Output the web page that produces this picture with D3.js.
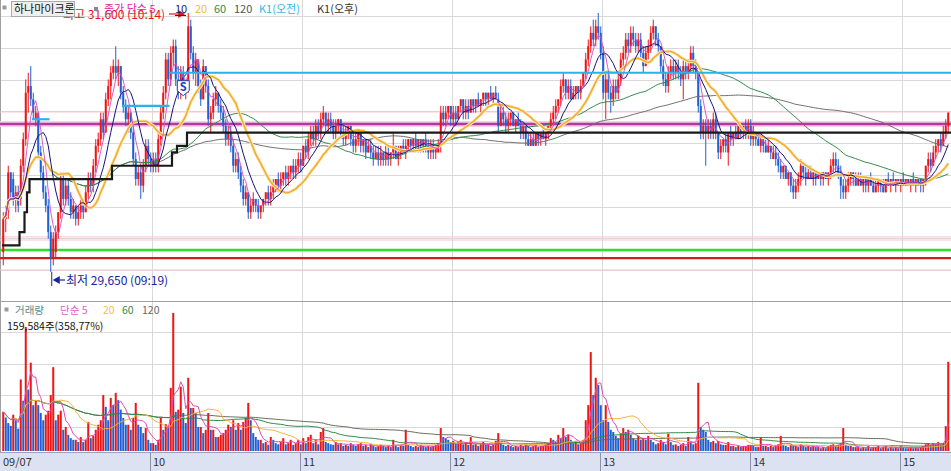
<!DOCTYPE html>
<html><head><meta charset="utf-8">
<script src="https://cdn.jsdelivr.net/npm/d3@7"></script>
<style>
html,body{margin:0;padding:0;background:#fff;overflow:hidden}
svg{display:block}
text{font-family:"Noto Sans CJK KR","Noto Sans",sans-serif}
</style></head><body>
<svg id="c" width="951" height="471"></svg>
<script>
// ---------- DATA (1-minute candles, 09:00 .. 15:18) ----------
const open = [
29800,30050,30100,30400,30350,30200,30250,30200,30450,30650,31000,31050,30950,30800,30850,30550,30400,30250,30150,29950,
29750,29800,29950,30100,30350,30200,30300,30200,30100,30150,30050,30100,30150,30100,30250,30350,30300,30450,30600,30650,
30800,30700,30950,31050,31150,31200,31150,31200,31000,30900,30800,30850,30700,30500,30350,30400,30300,30450,30600,30500,
30450,30500,30450,30650,30850,31000,31250,31100,31300,31350,31100,31000,31150,31000,31050,31500,31300,31150,31250,31050,
30950,31200,31050,30800,30850,30950,31000,30900,30850,30750,30650,30700,30600,30450,30500,30400,30300,30200,30250,30100,
30150,30200,30150,30100,30150,30200,30250,30200,30250,30300,30350,30300,30350,30400,30350,30400,30450,30400,30450,30500,
30450,30600,30550,30650,30700,30650,30750,30700,30800,30850,30750,30800,30750,30700,30750,30800,30700,30650,30700,30750,
30650,30600,30650,30700,30600,30650,30550,30600,30550,30500,30550,30500,30550,30500,30550,30500,30550,30600,30500,30550,
30600,30550,30600,30650,30600,30650,30600,30650,30600,30650,30600,30550,30600,30550,30550,30600,30850,30800,30850,30900,
30800,30850,30800,30900,30950,30850,30900,30850,30950,30900,30950,30900,30950,31000,30950,31000,30950,31000,30950,30750,
30850,30800,30750,30800,30850,30750,30800,30750,30700,30750,30650,30600,30650,30600,30700,30650,30700,30650,30700,30750,
30800,30850,30900,30950,31050,31100,31000,31050,30950,31000,31050,31000,31050,31150,31250,31350,31450,31400,31500,31450,
31300,31000,31100,31000,30950,31050,31000,31100,31250,31300,31400,31350,31450,31400,31350,31400,31300,31200,31300,31350,
31450,31500,31400,31350,31200,31100,31050,31150,31200,31150,31200,31150,31100,31200,31150,31200,31300,31200,31150,30900,
30700,30750,30700,30750,30700,30800,30700,30550,30600,30650,30550,30700,30650,30700,30650,30750,30700,30750,30700,30750,
30650,30700,30650,30600,30650,30600,30550,30600,30500,30550,30500,30450,30400,30450,30350,30400,30300,30250,30300,30350,
30450,30400,30350,30400,30350,30400,30350,30400,30350,30400,30350,30400,30450,30500,30450,30400,30300,30250,30300,30350,
30400,30350,30300,30350,30300,30350,30300,30350,30300,30250,30300,30350,30300,30250,30350,30300,30350,30300,30350,30300,
30350,30300,30350,30300,30350,30300,30350,30350,30300,30350,30450,30500,30450,30550,30600,30650,30600,30700,30750];
const high = [
30100,30150,30450,30400,30400,30300,30300,30500,30700,31100,31150,31200,31000,30900,30850,30600,30450,30300,30200,30000,
29950,30000,30100,30400,30400,30350,30350,30250,30200,30150,30150,30200,30200,30300,30400,30400,30500,30650,30700,30850,
30850,31000,31100,31200,31250,31350,31250,31200,31050,30950,30900,30850,30750,30550,30450,30450,30500,30650,30650,30550,
30550,30550,30700,30900,31050,31300,31300,31350,31400,31400,31200,31200,31200,31100,31600,31550,31350,31300,31250,31100,
31250,31200,31100,30900,31000,31050,31000,30950,30900,30800,30750,30750,30650,30550,30550,30450,30350,30300,30250,30200,
30250,30200,30200,30150,30200,30250,30300,30300,30350,30350,30400,30400,30400,30450,30450,30450,30500,30500,30550,30550,
30600,30650,30700,30750,30750,30800,30800,30850,30900,30850,30850,30850,30800,30800,30800,30800,30750,30750,30750,30750,
30700,30700,30700,30700,30650,30650,30650,30650,30600,30600,30600,30600,30550,30600,30600,30550,30700,30600,30600,30600,
30650,30650,30650,30650,30650,30700,30650,30650,30650,30700,30650,30650,30650,30600,30650,30900,30900,30900,30900,30900,
30900,30900,30900,30950,30950,30950,30950,30950,30950,30950,31000,30950,31000,31000,31000,31050,31000,31050,31000,30900,
30900,30850,30850,30850,30850,30800,30850,30800,30750,30750,30700,30700,30700,30700,30700,30700,30750,30700,30750,30850,
30900,30950,30950,31100,31150,31100,31100,31100,31050,31050,31050,31100,31150,31300,31400,31500,31550,31550,31600,31500,
31350,31150,31150,31050,31100,31100,31150,31300,31350,31450,31450,31500,31500,31450,31450,31450,31350,31350,31400,31500,
31550,31500,31450,31350,31250,31150,31200,31250,31250,31250,31250,31200,31250,31250,31250,31350,31350,31250,31150,30950,
30800,30800,30800,30800,30850,30850,30700,30650,30650,30700,30700,30750,30700,30750,30750,30750,30750,30800,30800,30800,
30750,30700,30700,30700,30650,30650,30650,30600,30600,30600,30550,30500,30450,30450,30400,30400,30350,30350,30400,30500,
30450,30450,30450,30450,30400,30400,30400,30400,30400,30400,30400,30500,30550,30550,30500,30450,30350,30350,30400,30400,
30400,30400,30400,30400,30350,30350,30350,30400,30350,30350,30350,30350,30350,30350,30400,30350,30400,30350,30350,30350,
30400,30350,30350,30350,30400,30350,30350,30350,30350,30450,30550,30550,30600,30650,30650,30700,30750,30800,30850];
const low = [
29700,29950,30050,30200,30150,30100,30100,30150,30400,30600,30850,30900,30800,30750,30500,30350,30200,30100,29900,29650,
29700,29750,29900,30050,30150,30150,30150,30050,30050,30000,30000,30050,30050,30100,30200,30250,30250,30400,30550,30600,
30650,30700,30900,30950,31100,31100,31050,30950,30850,30750,30700,30650,30450,30300,30300,30200,30250,30400,30450,30400,
30400,30400,30400,30600,30800,30950,31050,31050,31200,31050,30950,30950,31000,30950,31000,31250,31100,31050,31000,30900,
30950,31000,30750,30700,30800,30900,30850,30800,30700,30600,30600,30550,30400,30400,30350,30250,30150,30150,30050,30050,
30100,30100,30050,30050,30100,30150,30150,30150,30200,30250,30250,30250,30300,30300,30300,30350,30350,30350,30400,30400,
30450,30500,30500,30600,30600,30600,30650,30650,30750,30700,30700,30700,30650,30650,30700,30650,30600,30600,30650,30600,
30550,30550,30600,30550,30550,30500,30550,30500,30450,30500,30450,30450,30450,30450,30450,30450,30500,30500,30450,30500,
30550,30500,30550,30550,30550,30550,30550,30550,30550,30550,30500,30500,30500,30500,30550,30550,30750,30750,30800,30750,
30750,30750,30800,30850,30800,30800,30800,30850,30850,30850,30900,30850,30900,30900,30900,30950,30900,30950,30700,30750,
30750,30700,30700,30750,30750,30700,30750,30650,30650,30600,30600,30600,30600,30600,30600,30600,30650,30600,30650,30700,
30750,30800,30850,30900,31000,30950,30950,30950,30950,30950,30950,30950,31050,31100,31200,31300,31350,31350,31400,31250,
30950,30800,30950,30850,30900,30950,30950,31050,31200,31250,31300,31300,31350,31300,31300,31250,31150,31200,31250,31300,
31400,31350,31300,31150,31050,31000,31000,31100,31100,31100,31100,31050,30950,31100,31100,31150,31150,31100,30850,30650,
30650,30450,30650,30650,30650,30650,30500,30500,30550,30550,30450,30600,30600,30650,30650,30650,30650,30650,30650,30600,
30600,30600,30600,30550,30550,30550,30550,30500,30500,30450,30400,30350,30350,30350,30300,30250,30200,30200,30250,30300,
30350,30300,30350,30350,30300,30300,30350,30300,30300,30350,30300,30350,30400,30400,30350,30200,30200,30200,30250,30300,
30300,30300,30300,30300,30250,30250,30250,30300,30250,30250,30250,30250,30250,30250,30300,30250,30300,30250,30300,30250,
30300,30300,30300,30250,30300,30250,30300,30250,30250,30300,30400,30400,30450,30500,30550,30550,30600,30650,30700];
const close = [
30050,30100,30400,30250,30200,30250,30150,30450,30650,31000,31050,30950,30850,30850,30550,30400,30250,30150,29950,29750,
29900,29950,30100,30350,30200,30300,30200,30100,30150,30050,30100,30150,30100,30250,30350,30300,30450,30600,30650,30800,
30700,30950,31050,31150,31200,31150,31200,31000,30900,30800,30850,30700,30500,30350,30400,30300,30450,30600,30500,30450,
30500,30450,30650,30850,31000,31250,31100,31300,31350,31100,31000,31150,31050,31050,31500,31300,31150,31250,31050,30950,
31200,31050,30800,30850,30950,31000,30900,30850,30750,30650,30700,30600,30450,30500,30400,30300,30200,30250,30100,30150,
30200,30150,30100,30150,30200,30250,30200,30250,30300,30350,30300,30350,30400,30350,30400,30450,30400,30450,30500,30450,
30600,30550,30650,30700,30650,30750,30700,30800,30850,30750,30800,30750,30700,30750,30800,30700,30650,30700,30750,30650,
30600,30650,30700,30600,30650,30550,30600,30550,30500,30550,30500,30550,30500,30550,30500,30550,30600,30500,30550,30600,
30550,30600,30650,30600,30650,30600,30650,30600,30650,30600,30550,30600,30550,30600,30600,30850,30800,30850,30900,30800,
30850,30800,30900,30950,30850,30900,30850,30950,30900,30950,30900,30950,31000,30950,31000,30950,31000,30950,30750,30850,
30800,30750,30800,30850,30750,30800,30750,30700,30750,30650,30600,30650,30600,30700,30650,30700,30650,30700,30750,30800,
30850,30900,30950,31050,31100,31000,31050,30950,31000,31050,31000,31050,31150,31250,31350,31450,31400,31500,31450,31300,
31000,31100,31000,30950,31050,31000,31100,31250,31300,31400,31350,31450,31400,31350,31400,31300,31200,31300,31350,31450,
31500,31400,31350,31200,31100,31050,31150,31200,31150,31200,31150,31100,31200,31150,31200,31300,31200,31150,30900,30700,
30750,30700,30750,30700,30800,30700,30550,30600,30650,30600,30700,30650,30700,30650,30750,30700,30750,30700,30750,30650,
30700,30650,30600,30650,30600,30550,30600,30550,30550,30500,30450,30400,30450,30350,30400,30300,30250,30300,30350,30450,
30400,30350,30400,30350,30400,30350,30400,30350,30400,30350,30400,30450,30500,30450,30400,30300,30250,30300,30350,30400,
30350,30300,30350,30300,30350,30300,30350,30300,30250,30300,30350,30300,30250,30350,30300,30350,30300,30350,30300,30350,
30300,30350,30300,30350,30300,30350,30300,30300,30350,30450,30500,30450,30550,30600,30650,30600,30700,30750,30850];
const volume = [
70000,60000,50000,45000,65000,55000,40000,128000,90000,222000,110000,158000,82000,90000,82000,68000,55000,65000,72000,100000,
150000,55000,65000,72000,38000,43000,29000,23000,20000,20000,16000,25000,16000,20000,52000,23000,27000,38000,47000,55000,
100000,79000,55000,95000,82000,104000,91000,74000,59000,47000,47000,38000,59000,86000,47000,43000,32000,41000,20000,14000,
14000,11000,20000,59000,38000,48000,45000,113000,247000,70000,74000,115000,68000,50000,131000,77000,77000,68000,43000,43000,
32000,38000,68000,38000,38000,25000,25000,29000,32000,38000,47000,43000,55000,38000,50000,38000,52000,59000,86000,55000,
32000,25000,20000,20000,14000,16000,11000,25000,20000,14000,12000,16000,23000,12000,14000,20000,11000,14000,20000,12000,
23000,14000,25000,29000,14000,20000,12000,34000,41000,16000,14000,12000,11000,16000,12000,14000,9000,11000,9000,14000,
11000,9000,12000,14000,9000,11000,7000,12000,9000,7000,9000,11000,9000,7000,9000,7000,20000,9000,7000,11000,
9000,38000,11000,9000,7000,9000,7000,11000,9000,7000,9000,7000,9000,11000,14000,41000,25000,23000,20000,16000,
18000,14000,16000,20000,12000,14000,11000,25000,11000,12000,9000,12000,16000,11000,12000,9000,11000,18000,32000,14000,
11000,9000,11000,9000,7000,9000,7000,11000,9000,11000,9000,7000,9000,11000,7000,9000,9000,12000,14000,23000,
20000,16000,29000,23000,41000,25000,29000,20000,14000,18000,12000,14000,20000,55000,82000,177000,100000,131000,118000,82000,
55000,82000,52000,38000,34000,27000,23000,32000,41000,34000,38000,29000,23000,20000,27000,20000,23000,20000,27000,20000,
16000,12000,14000,20000,16000,12000,31000,16000,11000,12000,9000,11000,14000,9000,25000,18000,12000,14000,122000,43000,
38000,34000,20000,16000,18000,14000,18000,12000,11000,11000,16000,9000,9000,7000,9000,7000,9000,9000,11000,11000,
9000,7000,7000,25000,9000,9000,7000,9000,7000,11000,12000,27000,11000,9000,7000,11000,9000,9000,7000,12000,
9000,7000,9000,7000,9000,7000,7000,5000,7000,5000,9000,11000,12000,9000,11000,14000,41000,11000,9000,9000,
7000,7000,7000,5000,7000,5000,9000,5000,7000,7000,9000,5000,7000,9000,5000,7000,5000,7000,5000,9000,
7000,5000,5000,7000,5000,7000,5000,7000,9000,12000,14000,11000,14000,12000,16000,12000,14000,44481,159584];

const timeLabels = ["09/07","10","11","12","13","14","15"];
const timeTicks  = [0,60,120,180,240,300,360];           // minute index of each label
const kAM = [[12,19,30800],[48,67,30900],[67,380,31150]]; // K1(오전) segments: [from, to, price]
const kPM = [[0,29850],[7,29950],[9,30100],[10,30250],[11,30350],[44,30450],[68,30550],[70,30600],[74,30700]]; // K1(오후) steps
const pinkLevels = [30855,29914,29891,29665];
const magentaLevel = [30765];
const greenLevel = [29815];
const redLevel = [29755];
const highInfo = {price:31600, idx:74, label:"최고 31,600 (10:14)"};
const lowInfo  = {price:29650, idx:19, label:"최저 29,650 (09:19)"};
const signalS  = {idx:72, price:31000};

// ---------- SCALES ----------
const N = close.length;
const svg = d3.select("#c");
const x = d3.scaleLinear().domain([0,380]).range([2,952]);
const y = d3.scaleLinear().domain([29650,31600]).range([272,13]);
const yv = d3.scaleLinear().domain([0,263000]).range([451,304]);
const cx = i => x(i)+1.25;

function sma(arr,n){return arr.map((_,i)=>d3.mean(arr.slice(Math.max(0,i-n+1),i+1)));}

// ---------- BACKGROUND / GRID ----------
svg.append("rect").attr("width",951).attr("height",471).attr("fill","#fff");
const grid = svg.append("g").attr("stroke","#d9d9d9").attr("stroke-width",1);
d3.range(9).forEach(k=>{const gy=Math.round(16+k*31.75)+0.5;
  grid.append("line").attr("x1",0).attr("x2",951).attr("y1",gy).attr("y2",gy);});
[332,363.5,395,426.5].forEach(v=>{const gy=Math.round(v)+0.5;
  grid.append("line").attr("x1",0).attr("x2",951).attr("y1",gy).attr("y2",gy);});
timeTicks.slice(1).forEach(t=>{const gx=Math.round(x(t))+0.5;
  grid.append("line").attr("x1",gx).attr("x2",gx).attr("y1",0).attr("y2",452);});
svg.append("line").attr("x1",0).attr("x2",951).attr("y1",301.5).attr("y2",301.5).attr("stroke","#a0a0a0");
svg.append("line").attr("x1",0.5).attr("x2",0.5).attr("y1",0).attr("y2",452).attr("stroke","#a0a0a0");

// ---------- LEVEL LINES ----------
const lv = svg.append("g");
const hline = (p,col,w)=>lv.append("line").attr("x1",0).attr("x2",951).attr("y1",y(p)).attr("y2",y(p)).attr("stroke",col).attr("stroke-width",w);
pinkLevels.forEach(p=>hline(p,"#f6c4cf",1));
magentaLevel.forEach(p=>{hline(p,"#f5d0ea",6);hline(p,"#b03a9c",2.5);});
greenLevel.forEach(p=>hline(p,"#2be02b",2.5));
redLevel.forEach(p=>hline(p,"#c8231f",2.2));

// ---------- CANDLES ----------
const UP="#ee1414", DN="#1e5fd4";
const cg = svg.append("g");
for(let i=0;i<N;i++){
  const o=open[i],c=close[i],h=Math.max(high[i],o,c),l=Math.min(low[i],o,c);
  const col = c>=o?UP:DN;
  cg.append("line").attr("x1",cx(i)).attr("x2",cx(i)).attr("y1",y(h)).attr("y2",y(l)).attr("stroke",col).attr("stroke-width",1);
  const top=y(Math.max(o,c)), bot=y(Math.min(o,c));
  cg.append("rect").attr("x",x(i)+0.25).attr("width",2).attr("y",top).attr("height",Math.max(1,bot-top)).attr("fill",col);
}

// ---------- PRICE MOVING AVERAGES ----------
const maStyle = {5:["#d84ac0",0.9],10:["#14147a",1],20:["#f2ad2a",1.6],60:["#2f8a45",1],120:["#6e6e6e",1]};
const lineGen = d3.line().x((d,i)=>cx(i)).y(d=>y(d));
[120,60,20,10,5].forEach(n=>{
  const vals = sma(close,n);
  if(n===20) svg.append("path").attr("d",lineGen(vals)).attr("fill","none").attr("stroke","#fcebc6").attr("stroke-width",3.4);
  svg.append("path").attr("d",lineGen(vals)).attr("fill","none").attr("stroke",maStyle[n][0]).attr("stroke-width",maStyle[n][1]);
});

// ---------- K1 STEP LINES ----------
kAM.forEach(s=>svg.append("line").attr("x1",x(s[0])).attr("x2",x(s[1])).attr("y1",y(s[2])).attr("y2",y(s[2])).attr("stroke","#27b5e8").attr("stroke-width",2.2));
const step = d3.line().x(d=>x(d[0])).y(d=>y(d[1])).curve(d3.curveStepAfter);
svg.append("path").attr("d",step(kPM.concat([[380,kPM[kPM.length-1][1]]]))).attr("fill","none").attr("stroke","#1a1a1a").attr("stroke-width",2.2);

// ---------- VOLUME (red when volume rises vs previous bar, blue when it falls) ----------
const vg = svg.append("g");
for(let i=0;i<N;i++){
  const col = (i===0 || volume[i]>=volume[i-1])?UP:DN;
  vg.append("rect").attr("x",x(i)+0.25).attr("width",2).attr("y",yv(volume[i])).attr("height",451-yv(volume[i])).attr("fill",col);
}
const vStyle = {5:"#e04ab8",20:"#f2b43a",60:"#2f8a45",120:"#6a6a5a"};
const vLine = d3.line().x((d,i)=>cx(i)).y(d=>yv(d));
[120,60,20,5].forEach(n=>svg.append("path").attr("d",vLine(sma(volume,n))).attr("fill","none").attr("stroke",vStyle[n]).attr("stroke-width",1));

// ---------- SIGNAL MARKER ----------
{const sx=cx(signalS.idx), sy=y(signalS.price)-5;
 svg.append("path").attr("d",`M${sx-6},${sy-7}L${sx+6},${sy-7}L${sx+6},${sy+3}L${sx},${sy+8}L${sx-6},${sy+3}Z`).attr("fill","#fff").attr("stroke","#2a3f9a").attr("stroke-width",1);
 svg.append("text").attr("x",sx).attr("y",sy+3).attr("text-anchor","middle").attr("font-size",11).attr("font-weight","bold").attr("fill","#1c3fb0").text("S");}

// ---------- HIGH / LOW ANNOTATIONS ----------
{const hx=cx(highInfo.idx)-3, hy=14;
 svg.append("text").attr("x",63).attr("y",19).attr("font-size",12).attr("fill","#e8141c").text(highInfo.label);
 svg.append("line").attr("x1",169).attr("x2",hx-5).attr("y1",hy).attr("y2",hy).attr("stroke","#e8141c").attr("stroke-width",1.2);
 svg.append("path").attr("d",`M${hx},${hy}L${hx-7},${hy-4}L${hx-7},${hy+4}Z`).attr("fill","#e8141c");}
{const lx=cx(lowInfo.idx)+1, ly=280;
 svg.append("line").attr("x1",lx).attr("x2",lx).attr("y1",y(lowInfo.price)).attr("y2",286).attr("stroke","#14249c");
 svg.append("path").attr("d",`M${lx+1},${ly}L${lx+8},${ly-4}L${lx+8},${ly+4}Z`).attr("fill","#14249c");
 svg.append("line").attr("x1",lx+7).attr("x2",65).attr("y1",ly).attr("y2",ly).attr("stroke","#14249c").attr("stroke-width",1.2);
 svg.append("text").attr("x",66).attr("y",285).attr("font-size",12).attr("fill","#14249c").text(lowInfo.label);}

// ---------- LEGENDS ----------
svg.append("rect").attr("x",2.5).attr("y",5.5).attr("width",4).attr("height",4).attr("fill","#9a9a9a");
svg.append("rect").attr("x",11.5).attr("y",1.5).attr("width",63).attr("height",15).attr("fill","#efefef").attr("stroke","#a9a9a9");
svg.append("text").attr("x",14).attr("y",13).attr("font-size",11).attr("fill","#111").text("하나마이크론");
svg.append("rect").attr("x",94).attr("y",7).attr("width",4).attr("height",4).attr("fill","#888");
const leg = [["종가 단순 5",104,"#e0289a"],["10",175,"#1a1a80"],["20",195,"#f0bc30"],["60",214,"#2e8b50"],["120",234,"#555"],["K1(오전)",259,"#3ab4e6"],["K1(오후)",317,"#333"]];
leg.forEach(d=>svg.append("text").attr("x",d[1]).attr("y",13).attr("font-size",11).attr("fill",d[2]).text(d[0]));
svg.append("line").attr("x1",175).attr("x2",186).attr("y1",15.5).attr("y2",15.5).attr("stroke","#1a1a80");

svg.append("rect").attr("x",4.5).attr("y",307.5).attr("width",4).attr("height",4).attr("fill","#9a9a9a");
const vleg = [["거래량",15,"#4f8e8e"],["단순 5",60,"#e060c0"],["20",103,"#f0c040"],["60",122,"#2e8b50"],["120",142,"#666"]];
vleg.forEach(d=>svg.append("text").attr("x",d[1]).attr("y",314).attr("font-size",10.5).attr("fill",d[2]).text(d[0]));
const lastV = volume[N-1], pct = (lastV/volume[N-2]*100).toFixed(2).replace(".",",");
svg.append("text").attr("x",7).attr("y",330).attr("font-size",10.5).attr("fill","#111").text(d3.format(",")(lastV)+"주("+pct+"%)");

// ---------- TIME AXIS ----------
svg.append("rect").attr("x",0).attr("y",452).attr("width",951).attr("height",19).attr("fill","#dde2f2");
svg.append("line").attr("x1",0).attr("x2",951).attr("y1",452.5).attr("y2",452.5).attr("stroke","#9aa3bd");
timeTicks.forEach((t,i)=>{
  const tx = i===0?3:Math.round(x(t))+1;
  if(i>0) svg.append("line").attr("x1",Math.round(x(t))-1.5).attr("x2",Math.round(x(t))-1.5).attr("y1",453).attr("y2",471).attr("stroke","#8c93a8");
  svg.append("text").attr("x",tx).attr("y",466).attr("font-size",11).attr("fill","#333").text(timeLabels[i]);
});
</script>
</body></html>
